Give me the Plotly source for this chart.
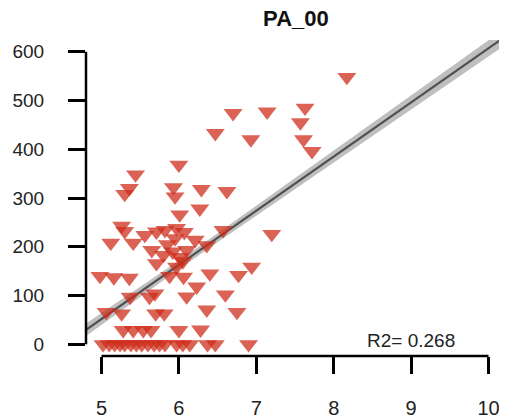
import plotly.graph_objects as go

title_text = "PA_00"
r2_label = "R2= 0.268"

x_vals = [8.17, 6.70, 7.14, 7.63, 7.57, 6.47, 6.93, 7.61, 7.72, 6.00,
          6.29, 6.62, 6.27, 6.57, 7.20, 5.44, 5.36, 5.30, 5.93, 5.95,
          6.01, 5.26, 5.30, 5.12, 5.41, 5.56, 5.71, 5.82, 5.97, 6.07,
          6.21, 5.95, 5.65, 5.80, 6.01, 6.10, 6.36, 5.71, 5.97, 5.88,
          6.06, 4.98, 5.16, 5.36, 6.40, 6.77, 6.94, 6.23, 6.60, 6.10,
          5.69, 5.37, 5.62, 5.06, 5.26, 5.70, 5.81, 6.36, 6.75, 5.28,
          5.41, 5.54, 5.64, 6.00, 6.28, 5.02, 5.10, 5.17, 5.24, 5.30,
          5.38, 5.45, 5.52, 5.60, 5.68, 5.75, 5.82, 5.97, 6.05, 6.14,
          6.37, 6.47, 6.90, 5.92, 6.05, 5.85]
y_vals = [548, 474, 477, 485, 455, 433, 420, 420, 396, 368,
          318, 314, 278, 234, 226, 348, 320, 308, 322, 303,
          266, 243, 232, 208, 208, 224, 231, 234, 238, 230,
          214, 217, 193, 183, 179, 193, 203, 166, 159, 140,
          138, 140, 137, 136, 145, 142, 159, 118, 102, 98,
          104, 97, 97, 66, 63, 63, 63, 71, 66, 29,
          29, 29, 29, 29, 30, 0, 0, 0, 0, 0,
          0, 0, 0, 0, 0, 0, 0, 0, 0, 0,
          0, 0, 0, 190, 170, 205]

fit_intercept = -503.0
fit_slope = 111.0
band_x = [4.8, 5.5, 6.0, 6.5, 7.0, 8.0, 9.0, 10.2]
band_halfwidth = [13, 10, 9, 9, 10, 12, 14, 17]

x_ticks = [5, 6, 7, 8, 9, 10]
y_ticks = [0, 100, 200, 300, 400, 500, 600]

fit_y = [fit_intercept + fit_slope * v for v in band_x]
upper = [f + h for f, h in zip(fit_y, band_halfwidth)]
lower = [f - h for f, h in zip(fit_y, band_halfwidth)]

fig = go.Figure()
fig.add_trace(go.Scatter(
    x=band_x + band_x[::-1], y=upper + lower[::-1],
    fill="toself", fillcolor="rgba(170,170,170,0.75)",
    line=dict(width=0), mode="lines", hoverinfo="skip", showlegend=False))
fig.add_trace(go.Scatter(
    x=band_x, y=fit_y, mode="lines",
    line=dict(color="#505050", width=2.2), showlegend=False))
fig.add_trace(go.Scatter(
    x=x_vals, y=y_vals, mode="markers",
    marker=dict(symbol="triangle-down", size=16.5,
                color="rgba(205,45,25,0.74)", line=dict(width=0)),
    showlegend=False))

font_family = "Liberation Sans, Arial, sans-serif"
fig.add_annotation(x=9.0, y=8, text=r2_label, showarrow=False,
                   xanchor="center", yanchor="middle",
                   font=dict(family=font_family, size=19, color="#222"))

fig.add_shape(type="line", xref="paper", yref="y", x0=0, x1=0, y0=0, y1=600,
              line=dict(color="black", width=2.5))
fig.add_shape(type="line", xref="x", yref="paper", x0=5, x1=10, y0=0, y1=0,
              line=dict(color="black", width=2.5))

# page body has an 8px margin, so the figure is drawn 8px smaller and offset
fig.update_layout(
    width=499, height=412,
    margin=dict(l=78, r=3, t=32, b=64, autoexpand=False),
    paper_bgcolor="white", plot_bgcolor="white",
    title=dict(text="<b>" + title_text + "</b>", x=0.577, xanchor="center",
               y=0.993, yanchor="top", pad=dict(t=0, b=0), automargin=False,
               font=dict(family=font_family, size=22, color="#111")),
    xaxis=dict(range=[4.8, 10.2], tickvals=x_ticks, ticktext=[str(v) for v in x_ticks],
               showgrid=False, zeroline=False, showline=False, automargin=False,
               ticks="outside", ticklen=17, tickwidth=2.5, tickcolor="black",
               ticklabelstandoff=17,
               tickfont=dict(family=font_family, size=20, color="#222")),
    yaxis=dict(range=[-24, 624], tickvals=y_ticks, ticktext=[str(v) for v in y_ticks],
               showgrid=False, zeroline=False, showline=False, automargin=False,
               ticks="outside", ticklen=17, tickwidth=2.5, tickcolor="black",
               ticklabelstandoff=20,
               tickfont=dict(family=font_family, size=19, color="#222")),
)

fig.write_html("out.html")
